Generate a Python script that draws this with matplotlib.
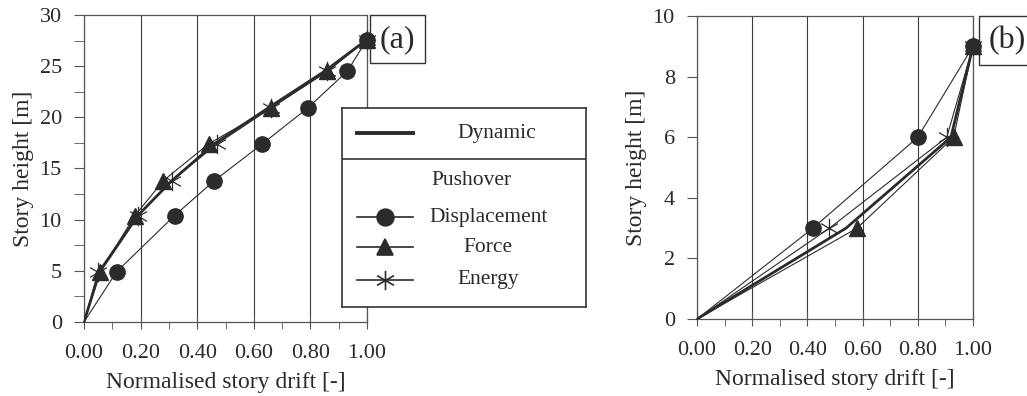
import numpy as np
import matplotlib.pyplot as plt
from matplotlib.path import Path
from matplotlib.ticker import MultipleLocator, FormatStrFormatter

plt.rcParams["font.family"] = ["Liberation Serif", "DejaVu Serif"]
plt.rcParams["font.size"] = 16

# panel (a): 7 storeys
h_a = [0, 4.9, 10.4, 13.8, 17.4, 20.9, 24.5, 27.6]
dyn_a = [0, 0.055, 0.19, 0.31, 0.46, 0.65, 0.85, 1.0]
disp_a = [0, 0.115, 0.32, 0.46, 0.63, 0.79, 0.93, 1.0]
force_a = [0, 0.057, 0.18, 0.28, 0.44, 0.66, 0.86, 1.0]
energy_a = [0, 0.05, 0.19, 0.31, 0.47, 0.66, 0.86, 1.0]

# panel (b): 3 storeys
h_b = [0, 3, 6, 9]
dyn_b = [0, 0.54, 0.92, 1.0]
disp_b = [0, 0.42, 0.80, 1.0]
force_b = [0, 0.58, 0.93, 1.0]
energy_b = [0, 0.48, 0.905, 1.0]

dark = "#2b2b2b"
txt = "#2a2a2a"

# six-armed asterisk: vertical bar plus a flat "x"
c, s = np.cos(np.pi / 6), np.sin(np.pi / 6)
star = Path([(0, -1), (0, 1), (-c, -s), (c, s), (-c, s), (c, -s)],
            [Path.MOVETO, Path.LINETO] * 3)

fig = plt.figure(figsize=(10.27, 3.96), dpi=100)
ax_a = fig.add_axes([0.0818, 0.1869, 0.2756, 0.7753])
ax_b = fig.add_axes([0.6787, 0.1944, 0.2687, 0.765])


def draw_panel(ax, h, dyn, disp, force, energy, ymax, ystep, yminor, tag, tagx):
    skip0 = slice(1, None)  # no marker at the base
    ax.plot(dyn, h, color=dark, lw=2.0, zorder=4)
    ax.plot(disp, h, color=dark, lw=0.8, marker="o", ms=11, markevery=skip0,
            zorder=5, clip_on=False)
    ax.plot(force, h, color=dark, lw=0.8, marker="^", ms=11, markevery=skip0,
            zorder=5, clip_on=False)
    ax.plot(energy, h, color=dark, lw=0.8, marker=star, ms=14, mew=0.9,
            markevery=skip0, zorder=5, clip_on=False)
    ax.set_xlim(0, 1)
    ax.set_ylim(0, ymax)
    ax.xaxis.set_major_locator(MultipleLocator(0.2))
    ax.xaxis.set_minor_locator(MultipleLocator(0.1))
    ax.xaxis.set_major_formatter(FormatStrFormatter("%.2f"))
    ax.yaxis.set_major_locator(MultipleLocator(ystep))
    if yminor:
        ax.yaxis.set_minor_locator(MultipleLocator(yminor))
    else:
        ax.yaxis.set_minor_locator(plt.NullLocator())
    ax.grid(axis="x", which="major", color="#3a3a3a", lw=0.8)
    ax.tick_params(axis="x", which="major", direction="inout", length=10,
                   color="#555555", pad=11)
    ax.tick_params(axis="x", which="minor", direction="out", length=5,
                   color="#555555")
    ax.tick_params(axis="y", which="both", direction="out", length=7,
                   color="#555555", pad=9)
    ax.tick_params(labelsize=16, labelcolor=txt)
    for sp in ax.spines.values():
        sp.set_color("#555555")
        sp.set_linewidth(0.9)
    ax.set_xlabel("Normalised story drift [-]", fontsize=17, color=txt,
                  labelpad=6)
    ax.set_ylabel("Story height [m]", fontsize=17, color=txt, labelpad=4)
    ax.text(tagx, 0.968, tag, transform=ax.transAxes, fontsize=23, color=txt,
            ha="left", va="top",
            bbox=dict(boxstyle="square,pad=0.3", fc="white", ec="#333333", lw=1.0))


draw_panel(ax_a, h_a, dyn_a, disp_a, force_a, energy_a, 30, 5, 2.5, "(a)", 1.045)
draw_panel(ax_b, h_b, dyn_b, disp_b, force_b, energy_b, 10, 2, None, "(b)", 1.055)

# legend box, drawn by hand to get the "Dynamic" / "Pushover" split
lg = fig.add_axes([0.333, 0.2247, 0.2376, 0.5025], zorder=10)
lg.set_xlim(0, 1)
lg.set_ylim(0, 1)
lg.set_xticks([])
lg.set_yticks([])
for sp in lg.spines.values():
    sp.set_color("#333333")
    sp.set_linewidth(1.2)
lg.axhline(0.744, color="#333333", lw=1.2)

sx = [0.06, 0.29]
lg.plot(sx, [0.874, 0.874], color=dark, lw=2.8)
lg.text(0.635, 0.874, "Dynamic", ha="center", va="center", fontsize=15.5,
        color=txt)
lg.text(0.53, 0.638, "Pushover", ha="center", va="center", fontsize=15.5,
        color=txt)

names = ["Displacement", "Force", "Energy"]
marks = ["o", "^", star]
rows = [0.452, 0.30, 0.136]
for name, mk, yy in zip(names, marks, rows):
    lg.plot(sx, [yy, yy], color=dark, lw=1.2)
    lg.plot([0.175], [yy], color=dark, marker=mk, ms=14 if mk is star else 12,
            mew=1.2, ls="none")
    lg.text(0.60, yy, name, ha="center", va="center", fontsize=15.5,
            color=txt)

fig.savefig("out.png", dpi=100, facecolor="white")
